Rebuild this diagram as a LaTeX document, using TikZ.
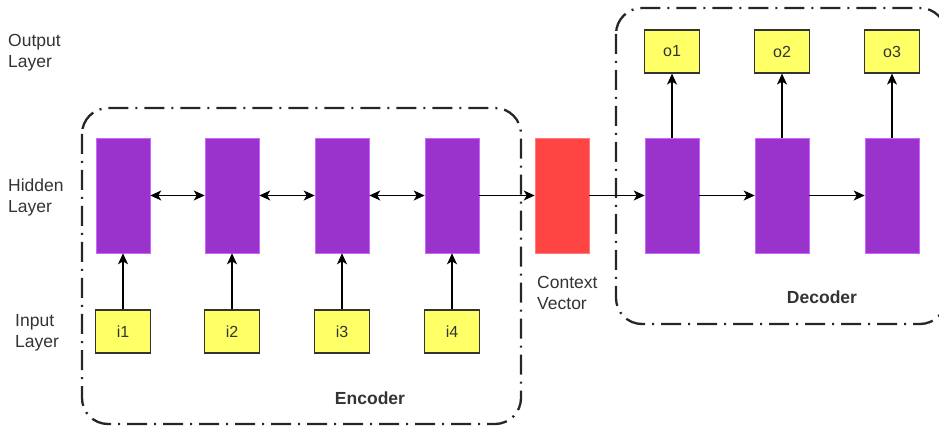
\documentclass[tikz,border=0pt]{standalone}
\usepackage{fontspec}
\setmainfont{Liberation Sans}
\usetikzlibrary{arrows.meta}
\definecolor{cellfill}{HTML}{9933CC}
\definecolor{cellline}{HTML}{CC66FF}
\definecolor{ctxfill}{HTML}{FF4444}
\definecolor{ioboxfill}{HTML}{FFFF66}
\definecolor{txtgray}{HTML}{333333}

\begin{document}
\begin{tikzpicture}[x=1pt,y=-1pt,
  cell/.style={fill=cellfill,draw=cellline,line width=0.6pt,minimum width=54pt,minimum height=115pt,inner sep=0pt},
  iobox/.style={fill=ioboxfill,draw=txtgray,line width=1.2pt,minimum width=55pt,minimum height=43pt,inner sep=0pt,font=\fontsize{16}{18}\selectfont,text=txtgray},
  layer/.style={align=left,text=txtgray,font=\fontsize{17.5}{21}\selectfont,inner sep=0pt},
  group/.style={line width=2.3pt,rounded corners=26pt,dash pattern=on 20pt off 7pt on 2pt off 7pt,draw=black!85},
  link/.style={-{Stealth[length=11pt,width=10pt,inset=3pt]},line width=1.2pt},
  both/.style={{Stealth[length=11pt,width=10pt,inset=3pt]}-{Stealth[length=11pt,width=10pt,inset=3pt]},line width=1.2pt}]
  \useasboundingbox (0,0) rectangle (939,427);
  %\draw[help lines] (0,0) grid[step=50] (939,427);
  % groups
  \draw[group] (82,108) rectangle (521,424);
  \draw[group] (616,8) rectangle (946,324);
  % layer names
  \node[layer,anchor=west] (outlbl) at (8,53) {Output\\Layer};
  \node[layer,anchor=west] (hidlbl) at (8,197) {Hidden\\Layer};
  \node[layer,anchor=west] (inlbl) at (15,333) {Input\\Layer};
  % encoder
  \foreach \k/\x in {1/123,2/232,3/342,4/452}{
    \node[cell] (e\k) at (\x,195.5) {};
    \node[iobox] (i\k) at (\x,331.5) {i\k};
    \draw[link] (i\k) -- (e\k);
  }
  \foreach \a/\b in {1/2,2/3,3/4}
    \draw[both] (e\a) -- (e\b);
  % context
  \node[cell,fill=ctxfill,draw=ctxfill!70] (ctx) at (562,195.5) {};
  \node[layer,anchor=north west] (ctxlbl) at (537,276) {Context\\Vector};
  % decoder
  \foreach \k/\x in {1/672,2/782,3/892}{
    \node[cell] (d\k) at (\x,195.5) {};
    \node[iobox] (o\k) at (\x,51.5) {o\k};
    \draw[link] (d\k) -- (o\k);
  }
  \draw[link] (e4) -- (ctx);
  \draw[link] (ctx) -- (d1);
  \draw[link] (d1) -- (d2);
  \draw[link] (d2) -- (d3);
  \node[font=\bfseries\fontsize{17.5}{20}\selectfont,text=txtgray] (enclbl) at (370,398) {Encoder};
  \node[font=\bfseries\fontsize{17.5}{20}\selectfont,text=txtgray] (declbl) at (822,297) {Decoder};
\end{tikzpicture}
\end{document}
